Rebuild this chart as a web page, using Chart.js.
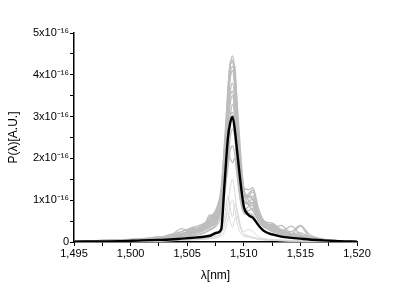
<!DOCTYPE html>
<html>
<head>
<meta charset="utf-8">
<script src="https://cdn.jsdelivr.net/npm/chart.js@4/dist/chart.umd.min.js"></script>
<style>
  html, body { margin: 0; padding: 0; background: #fff; }
  #wrap { width: 415px; height: 292px; }
</style>
</head>
<body>
<div id="wrap"><canvas id="spec"></canvas></div>
<script>
'use strict';

// wavelength grid (nm), shared by every trace
const lambda = [1495, 1497, 1499, 1501, 1502.5, 1503.5, 1504.5, 1505.5, 1506.3, 1507, 1507.6, 1508,
    1508.3, 1508.6, 1508.8, 1509, 1509.2, 1509.4, 1509.7, 1510, 1510.4, 1510.8, 1511.3, 1511.8,
    1512.5, 1513.3, 1514.2, 1515, 1515.8, 1517, 1518.5, 1520];

// individual spectra, units of 1e-16
const runs = [
    [0.02,0.03,0.05,0.07,0.1,0.12,0.18,0.22,0.3,0.45,0.65,1.1,2.0,3.4,4.2,4.45,4.1,3.2,2.0,1.2,0.9,0.75,0.5,0.4,0.3,0.22,0.17,0.12,0.08,0.05,0.02,0.01],
    [0.02,0.03,0.05,0.08,0.1,0.14,0.2,0.3,0.35,0.5,0.8,1.3,2.4,3.6,4.3,4.35,3.8,2.8,1.7,1.2,1.1,1.2,0.7,0.45,0.4,0.28,0.2,0.15,0.1,0.05,0.03,0.01],
    [0.02,0.03,0.05,0.07,0.12,0.15,0.32,0.25,0.38,0.55,0.7,1.2,2.3,3.3,3.9,4.1,3.7,2.9,1.8,1.3,1.25,1.3,0.8,0.5,0.45,0.3,0.25,0.4,0.18,0.07,0.03,0.01],
    [0.01,0.02,0.04,0.06,0.08,0.11,0.15,0.2,0.27,0.38,0.55,0.9,1.8,2.9,3.6,3.8,3.4,2.5,1.5,1.0,0.9,0.85,0.55,0.38,0.42,0.25,0.2,0.14,0.1,0.05,0.02,0.01],
    [0.02,0.03,0.05,0.07,0.1,0.18,0.25,0.32,0.35,0.6,0.75,1.0,1.9,3.0,3.5,3.6,3.2,2.4,1.5,1.1,1.15,1.25,0.65,0.4,0.32,0.4,0.2,0.38,0.12,0.06,0.03,0.01],
    [0.01,0.02,0.03,0.05,0.07,0.09,0.13,0.16,0.2,0.3,0.45,0.75,1.4,2.4,3.0,3.3,3.0,2.3,1.3,0.85,0.7,0.65,0.4,0.28,0.2,0.16,0.13,0.1,0.07,0.04,0.02,0.01],
    [0.02,0.03,0.04,0.08,0.12,0.15,0.25,0.35,0.42,0.55,0.8,1.1,1.7,2.6,3.0,3.1,2.8,2.1,1.3,0.95,0.95,1.05,0.55,0.38,0.28,0.22,0.18,0.15,0.1,0.05,0.02,0.01],
    [0.01,0.02,0.04,0.05,0.08,0.1,0.13,0.16,0.2,0.28,0.4,0.6,1.1,1.9,2.5,2.7,2.5,1.8,1.0,0.7,0.65,0.6,0.38,0.26,0.2,0.15,0.12,0.1,0.06,0.04,0.02,0.01],
    [0.01,0.02,0.04,0.06,0.09,0.12,0.18,0.25,0.3,0.4,0.5,0.75,1.2,1.8,2.2,2.3,2.1,1.6,1.0,0.75,0.85,0.95,0.6,0.38,0.25,0.18,0.15,0.12,0.08,0.05,0.02,0.01],
    [0.01,0.02,0.04,0.05,0.08,0.12,0.15,0.35,0.28,0.65,0.55,0.85,1.4,2.2,2.8,3.0,2.8,2.1,1.4,1.05,1.1,1.0,0.7,0.48,0.38,0.25,0.38,0.18,0.12,0.06,0.03,0.01],
    [0.02,0.03,0.04,0.06,0.09,0.13,0.2,0.28,0.4,0.5,0.6,0.9,1.6,2.7,3.3,3.5,3.1,2.3,1.4,1.0,0.9,0.95,0.6,0.5,0.35,0.25,0.2,0.22,0.12,0.06,0.03,0.01],
    [0.01,0.02,0.03,0.05,0.07,0.1,0.14,0.2,0.25,0.35,0.5,0.8,1.5,2.2,2.0,1.9,2.0,1.7,1.1,0.8,0.75,0.8,0.5,0.35,0.28,0.2,0.15,0.12,0.08,0.04,0.02,0.01],
    [0.02,0.03,0.05,0.07,0.1,0.13,0.2,0.26,0.33,0.48,0.7,1.15,2.2,3.7,4.25,4.3,4.2,3.4,2.2,1.3,1.0,0.9,0.6,0.42,0.33,0.24,0.18,0.14,0.09,0.05,0.02,0.01],
    [0.02,0.03,0.04,0.06,0.09,0.12,0.17,0.24,0.3,0.42,0.6,1.0,2.1,3.2,4.0,4.2,3.9,3.0,1.9,1.25,1.05,1.1,0.65,0.44,0.36,0.26,0.2,0.16,0.1,0.05,0.02,0.01],
];
const faintRuns = [
    [0,0.01,0.01,0.02,0.03,0.04,0.05,0.06,0.08,0.1,0.14,0.2,0.4,0.9,1.3,1.5,1.2,0.7,0.35,0.2,0.15,0.12,0.08,0.06,0.05,0.04,0.03,0.03,0.02,0.01,0.01,0],
    [0,0.01,0.01,0.02,0.02,0.03,0.04,0.05,0.06,0.08,0.1,0.15,0.25,0.55,0.9,1.0,0.8,0.45,0.22,0.14,0.12,0.1,0.06,0.05,0.04,0.03,0.02,0.02,0.01,0.01,0,0],
    [0,0.01,0.01,0.02,0.02,0.03,0.04,0.05,0.06,0.08,0.12,0.25,0.45,0.7,0.5,0.35,0.55,0.6,0.35,0.18,0.12,0.1,0.07,0.05,0.04,0.03,0.02,0.02,0.01,0.01,0,0],
    [0,0.01,0.01,0.02,0.03,0.04,0.05,0.06,0.08,0.12,0.18,0.3,0.6,1.1,0.8,0.6,0.9,0.8,0.4,0.25,0.3,0.25,0.12,0.08,0.06,0.05,0.04,0.03,0.02,0.01,0.01,0],
];
// averaged spectrum
const mean = [0.01,0.015,0.02,0.04,0.05,0.06,0.08,0.1,0.12,0.15,0.22,0.3,1.4,2.5,2.85,3.0,2.7,2.2,1.45,0.85,0.65,0.58,0.4,0.26,0.18,0.13,0.1,0.08,0.06,0.04,0.02,0.01];

const xTicks = [1495, 1500, 1505, 1510, 1515, 1520];
const yTicks = [0, 1, 2, 3, 4, 5];

const toPts = ys => ys.map((y, i) => ({ x: lambda[i], y }));
const trace = (ys, color, width) => ({
    data: toPts(ys), borderColor: color, borderWidth: width,
    pointRadius: 0, cubicInterpolationMode: 'monotone', fill: false,
});

// first dataset is painted last, so the mean goes first
const datasets = [
    trace(mean, '#000000', 2.4),
    ...faintRuns.map(r => trace(r, '#d9d9d9', 1)),
    ...runs.map(r => trace(r, '#bdbdbd', 1.3)),
];

const axisFont = { family: 'Liberation Sans, Arial, sans-serif', size: 11 };
const sup = '⁻¹⁶';

new Chart(document.getElementById('spec').getContext('2d'), {
    type: 'line',
    data: { datasets },
    options: {
        responsive: true,
        maintainAspectRatio: false,
        animation: false,
        layout: { padding: { top: 33, right: 58, bottom: 5, left: 2 } },
        plugins: { legend: { display: false }, tooltip: { enabled: false } },
        scales: {
            x: {
                type: 'linear',
                min: 1495, max: 1520,
                afterFit: s => { s.height = 45; },
                border: { color: '#000', width: 1.5 },
                grid: { drawOnChartArea: false, tickLength: 4, tickColor: '#000', tickWidth: 1 },
                ticks: {
                    stepSize: 2.5, autoSkip: false, maxRotation: 0,
                    color: '#000', font: axisFont, padding: 1,
                    callback: v => xTicks.includes(v) ? v.toLocaleString('en-US') : '',
                },
                title: { display: true, text: 'λ[nm]', color: '#000', font: { ...axisFont, size: 12 }, padding: { top: 2, bottom: 4 } },
            },
            y: {
                min: 0, max: 5,
                afterFit: s => { s.width = 72; },
                border: { color: '#000', width: 1.5 },
                grid: { drawOnChartArea: false, tickLength: 4, tickColor: '#000', tickWidth: 1 },
                ticks: {
                    stepSize: 0.5, autoSkip: false,
                    color: '#000', font: axisFont, padding: 1,
                    callback: v => yTicks.includes(v) ? (v === 0 ? '0' : v + 'x10' + sup) : '',
                },
                title: { display: true, text: 'P(λ)[A.U.]', color: '#000', font: { ...axisFont, size: 12 }, padding: { top: 4, bottom: 4 } },
            },
        },
    },
});
</script>
</body>
</html>
